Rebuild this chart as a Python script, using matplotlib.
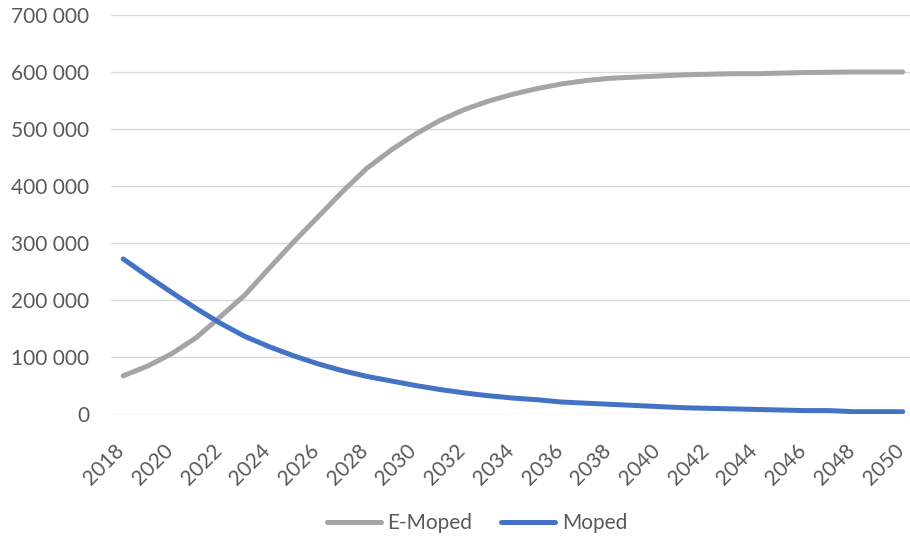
import matplotlib
matplotlib.use("Agg")
import matplotlib.pyplot as plt
from matplotlib.ticker import FuncFormatter, MultipleLocator
from matplotlib.lines import Line2D
from matplotlib.transforms import ScaledTranslation

years = list(range(2018, 2051))
e_moped = [67000, 84000, 106000, 134000, 171000, 209000, 256000, 302000, 346000,
           390000, 431000, 463000, 491000, 515000, 534000, 549000, 561000, 571000,
           579000, 585000, 589000, 591000, 593000, 595000, 596000, 597000, 597000,
           598000, 599000, 599500, 600000, 600000, 600000]
moped = [272000, 242000, 213000, 185000, 159000, 136000, 118000, 102000, 88000,
         76000, 66000, 58000, 50000, 43000, 37000, 32000, 28000, 25000, 21000,
         19000, 17000, 15000, 13000, 11000, 10000, 9000, 8000, 7000, 6000, 6000,
         4000, 4000, 4000]
series_names = ["E-Moped", "Moped"]
year_ticks = list(range(2018, 2051, 2))

TEXT = "#595959"
GREY = "#A5A5A5"
BLUE = "#4472C4"
LW = 3.6
plt.rcParams["font.family"] = ["Lato", "DejaVu Sans"]

fig = plt.figure(figsize=(9.10, 5.39), dpi=100)
ax = fig.add_axes([0.122, 0.2319, 0.878, 0.7403])

ax.plot(years, e_moped, color=GREY, lw=LW, solid_capstyle="round",
        solid_joinstyle="round", zorder=3)
ax.plot(years, moped, color=BLUE, lw=LW, solid_capstyle="round",
        solid_joinstyle="round", zorder=4)

ax.set_ylim(0, 700000)
ax.set_xlim(2017.5, 2050.3)
ax.yaxis.set_major_locator(MultipleLocator(100000))
ax.yaxis.set_major_formatter(FuncFormatter(lambda v, p: f"{int(v):,}".replace(",", " ")))
ax.grid(axis="y", color="#D9D9D9", lw=1.0)
ax.set_axisbelow(True)
for s in ax.spines.values():
    s.set_visible(False)

ax.set_xticks(year_ticks)
ax.set_xticklabels([str(y) for y in year_ticks], rotation=45, ha="right",
                   va="center", rotation_mode="anchor")
ax.tick_params(axis="both", length=0, colors=TEXT, labelsize=15)
ax.tick_params(axis="y", pad=15.5)
ax.tick_params(axis="x", pad=24)

# nudge the slanted year labels so their upper end sits just right of the tick
shift = ScaledTranslation(-2 / 100, 0, fig.dpi_scale_trans)
for lbl in ax.get_xticklabels():
    lbl.set_transform(lbl.get_transform() + shift)

handles = [Line2D([], [], color=GREY, lw=LW, solid_capstyle="round"),
           Line2D([], [], color=BLUE, lw=LW, solid_capstyle="round")]
fig.legend(handles, series_names, loc="center", bbox_to_anchor=(0.524, 0.03),
           ncol=2, frameon=False, fontsize=15, labelcolor=TEXT,
           handlelength=2.6, handletextpad=0.3, columnspacing=1.4)

fig.savefig("out.png", dpi=100, facecolor="white")
